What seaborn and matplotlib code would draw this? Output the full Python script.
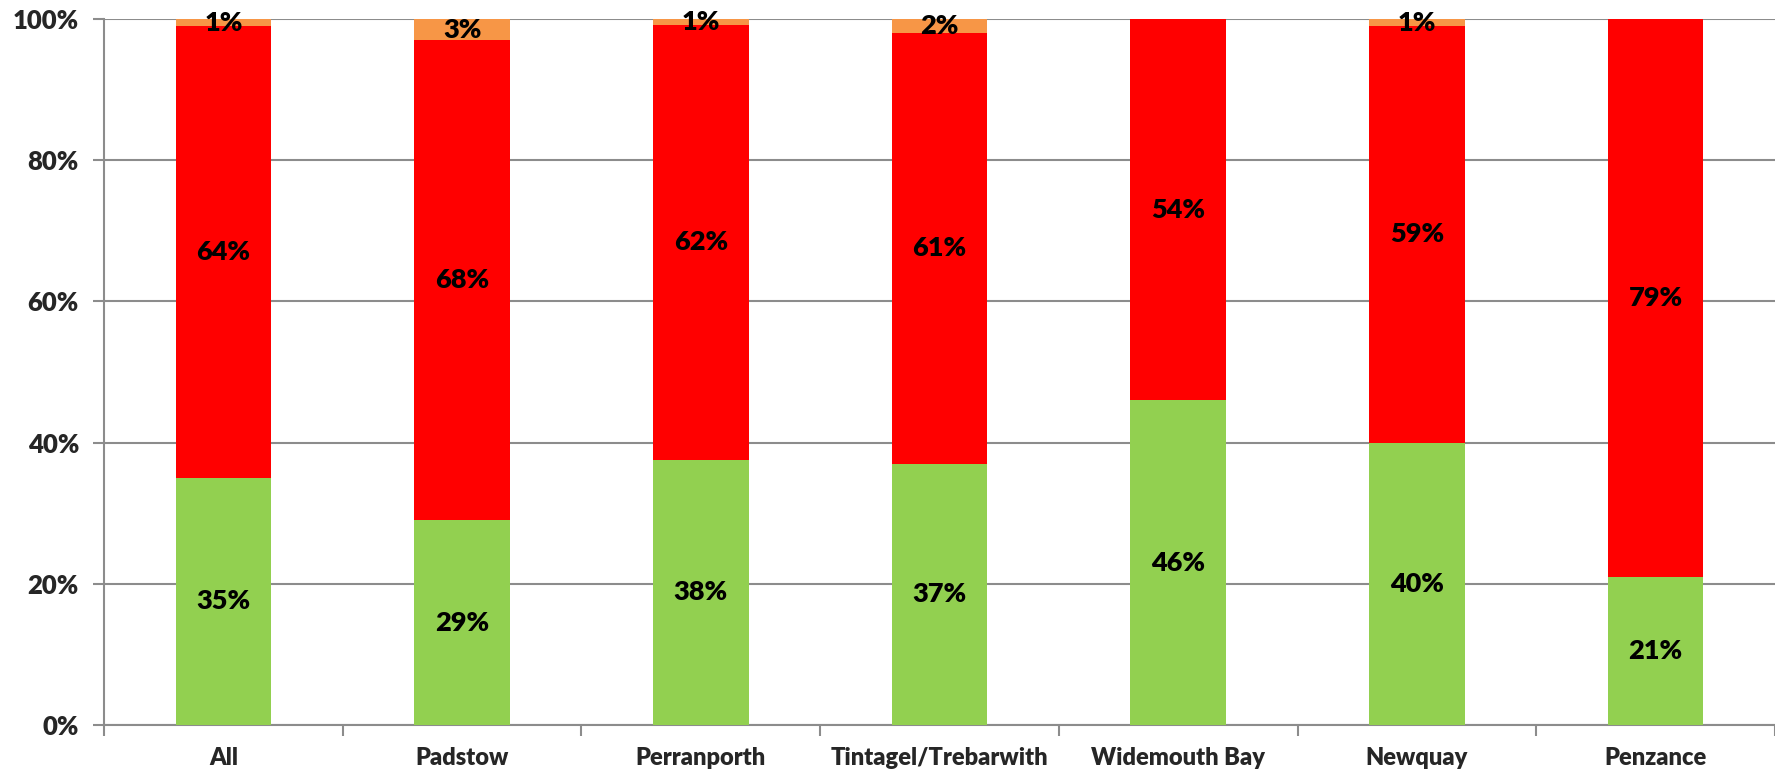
import matplotlib
matplotlib.use("Agg")
import matplotlib.pyplot as plt
import seaborn as sns
import numpy as np

locations = ["All", "Padstow", "Perranporth", "Tintagel/Trebarwith",
             "Widemouth Bay", "Newquay", "Penzance"]
green_pct = [35, 29, 37.6, 37, 46, 40, 21]
red_pct = [64, 68, 61.5, 61, 54, 59, 79]
orange_pct = [1, 3, 0.9, 2, 0, 1, 0]
y_ticks = [0, 20, 40, 60, 80, 100]

GREEN = "#92D050"
RED = "#FF0000"
ORANGE = "#F79646"
GRID = "#8C8C8C"

sns.set_theme(style="white")
plt.rcParams["font.family"] = ["Lato", "DejaVu Sans"]
WEIGHT = "heavy"

fig = plt.figure(figsize=(17.75, 7.76), dpi=100)
ax = fig.add_axes([104 / 1775, 1 - 725 / 776, 1 - 104 / 1775, (725 - 19) / 776])

green = np.array(green_pct, dtype=float)
red = np.array(red_pct, dtype=float)
orange = np.array(orange_pct, dtype=float)
top_red = green + red
top_orange = top_red + orange

# Stack drawn back to front: each layer covers the one beneath it
for tops, color in [(top_orange, ORANGE), (top_red, RED), (green, GREEN)]:
    sns.barplot(x=locations, y=tops, color=color, width=0.4, ax=ax,
                saturation=1, linewidth=0, zorder=3)

ax.set_xlim(-0.5, 6.5)
ax.set_ylim(0, 100)

# Data labels centred in each segment
for i in range(len(locations)):
    segs = [(0, green[i]), (green[i], red[i]), (top_red[i], orange[i])]
    for base, h in segs:
        if h <= 0:
            continue
        ax.text(i, base + h / 2, f"{h:.0f}%", ha="center", va="center",
                fontsize=19.5, fontweight=WEIGHT, color="black", zorder=5)

ax.set_yticks(y_ticks)
ax.set_yticklabels([f"{v}%" for v in y_ticks], fontsize=18.5, fontweight=WEIGHT)
ax.yaxis.grid(True, color=GRID, linewidth=1.5, zorder=0)
ax.set_axisbelow(True)

ax.set_xticks(range(len(locations)))
ax.set_xticklabels(locations, fontsize=17, fontweight=WEIGHT)
ax.set_xticks(np.arange(-0.5, 7, 1), minor=True)
ax.tick_params(axis="x", which="major", length=0, pad=16)
ax.tick_params(axis="x", which="minor", length=8, width=1.5, color=GRID,
               direction="out", bottom=True)
ax.tick_params(axis="y", length=8, width=1.5, color=GRID, direction="out",
               left=True, pad=10)

ax.set_xlabel("")
ax.set_ylabel("")
for side in ["top", "right"]:
    ax.spines[side].set_visible(False)
for side in ["left", "bottom"]:
    ax.spines[side].set_color(GRID)
    ax.spines[side].set_linewidth(1.5)

fig.savefig("out.png", dpi=100)
